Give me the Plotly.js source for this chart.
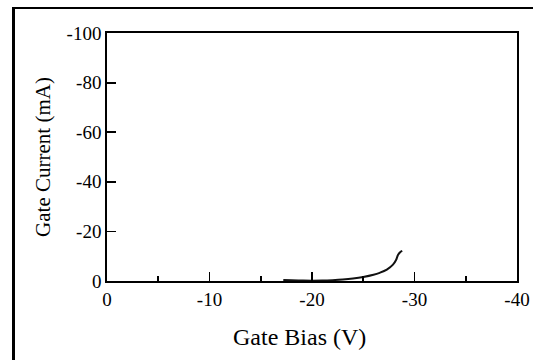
<!DOCTYPE html>
<html>
<head>
<meta charset="utf-8">
<script src="https://cdn.plot.ly/plotly-3.0.1.min.js"></script>
<style>
  html, body { margin: 0; padding: 0; background: #fff; overflow: hidden; width: 533px; height: 360px; }
  ::-webkit-scrollbar { display: none; }
  #wrap { position: relative; width: 533px; height: 360px; overflow: hidden; }
  #chart { position: absolute; left: 0; top: 0; width: 533px; height: 360px; }
  #frame { position: absolute; left: 12px; top: 7px; width: 540px; height: 370px;
           border-left: 3px solid #000; border-top: 2px solid #000; pointer-events: none; }
</style>
</head>
<body>
<div id="wrap">
  <div id="chart"></div>
  <div id="frame"></div>
</div>
<script>
// Gate bias (V) and gate current (mA)
const gateBias = [-17.2, -18, -19, -20, -21, -22, -23, -24, -25, -26, -26.6, -27.3, -27.9, -28.2, -28.4, -28.6, -28.8];
const gateCurrent = [-0.4, -0.3, -0.2, -0.15, -0.2, -0.35, -0.6, -1.0, -1.6, -2.5, -3.3, -4.6, -6.6, -8.5, -10.6, -11.6, -12.2];
const xTicks = [0, -10, -20, -30, -40];
const yTicks = [0, -20, -40, -60, -80, -100];
const xTitle = 'Gate Bias (V)';
const yTitle = 'Gate Current (mA)';

const serif = "'Liberation Serif', 'Times New Roman', Times, serif";
const font = { family: serif, color: '#000' };

const trace = {
  x: gateBias, y: gateCurrent, type: 'scatter', mode: 'lines',
  line: { color: '#111', width: 2, shape: 'spline' }, hoverinfo: 'skip'
};

const layout = {
  width: 533, height: 360,
  margin: { l: 106.5, r: 15.5, t: 32.5, b: 78.5, pad: 0 },
  paper_bgcolor: '#fff', plot_bgcolor: '#fff',
  showlegend: false,
  font: Object.assign({ size: 19 }, font),
  xaxis: {
    range: [0, -40], autorange: false,
    tickvals: xTicks, ticktext: xTicks.map(String),
    ticks: 'inside', ticklen: 9, tickwidth: 1.8, tickcolor: '#000',
    minor: { dtick: 5, tick0: 5, ticks: 'inside', ticklen: 5, tickwidth: 1.8, tickcolor: '#000' },
    showline: true, linecolor: '#000', linewidth: 1.8, mirror: true,
    showgrid: false, zeroline: false,
    tickfont: Object.assign({ size: 19 }, font)
  },
  yaxis: {
    range: [0, -100], autorange: false,
    tickvals: yTicks, ticktext: yTicks.map(String),
    ticks: 'inside', ticklen: 9, tickwidth: 1.8, tickcolor: '#000',
    showline: true, linecolor: '#000', linewidth: 1.8, mirror: true,
    showgrid: false, zeroline: false,
    tickfont: Object.assign({ size: 19 }, font),
    title: { text: yTitle, font: Object.assign({ size: 21 }, font), standoff: 10 }
  },
  annotations: [{
    text: xTitle, xref: 'paper', yref: 'paper', x: 0.47, y: -0.225,
    xanchor: 'center', yanchor: 'middle', showarrow: false,
    font: Object.assign({ size: 24 }, font)
  }]
};

Plotly.newPlot('chart', [trace], layout, { staticPlot: true, displayModeBar: false });
</script>
</body>
</html>
